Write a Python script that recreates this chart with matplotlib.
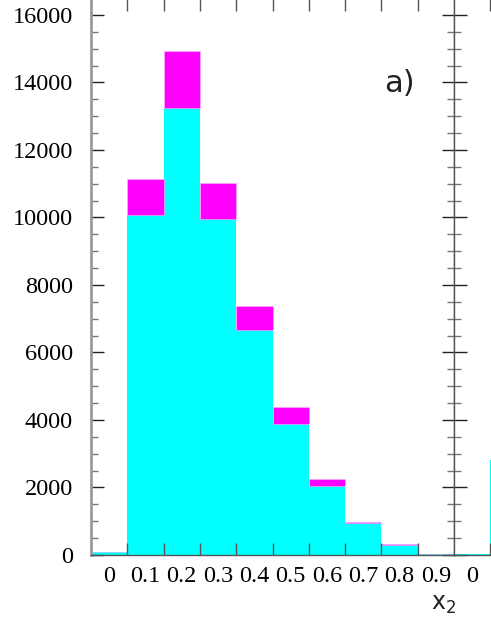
import matplotlib

matplotlib.use("Agg")
import matplotlib.pyplot as plt  # noqa: E402
import numpy as np  # noqa: E402

# x_2 histogram, 10 bins centred on 0.0 ... 0.9
BIN_CENTERS = [0.0, 0.1, 0.2, 0.3, 0.4, 0.5, 0.6, 0.7, 0.8, 0.9]
BIN_LABELS = ["0", "0.1", "0.2", "0.3", "0.4", "0.5", "0.6", "0.7", "0.8", "0.9"]
CYAN_COUNTS = [90, 10060, 13250, 9950, 6660, 3870, 2040, 935, 290, 25]
TOTAL_COUNTS = [90, 11140, 14940, 11010, 7370, 4370, 2250, 985, 320, 25]
# neighbouring panel, only its first two bins show at the edge of the crop
NEXT_CENTERS = [0.0, 0.1]
NEXT_COUNTS = [40, 2800]
NEXT_LABEL_CENTERS = [0.0]
NEXT_LABELS = ["0"]
Y_TICKS = [0, 2000, 4000, 6000, 8000, 10000, 12000, 14000, 16000]

CYAN, MAGENTA = "#00ffff", "#ff00ff"
SERIF = "Liberation Serif"
W = 0.1

plt.rcParams.update({"mathtext.fontset": "dejavusans"})

fig = plt.figure(figsize=(4.91, 6.35), dpi=100)
px = lambda v: v / 491  # noqa: E731
py = lambda v: 1 - v / 635  # noqa: E731

# left panel: x from 91 to 454 px, bottom at 555 px, top just above crop
ax = fig.add_axes([px(91), py(555), px(454) - px(91), py(-2) - py(555)])
ax2 = fig.add_axes([px(454), py(555), px(454) - px(91), py(-2) - py(555)])

cyan = np.array(CYAN_COUNTS)
total = np.array(TOTAL_COUNTS)
ax.bar(BIN_CENTERS, cyan, width=W, color=CYAN, linewidth=0, zorder=1)
ax.bar(BIN_CENTERS, total - cyan, bottom=cyan, width=W, color=MAGENTA,
       edgecolor="#ffb0ff", linewidth=0.4, zorder=1)
ax2.bar(NEXT_CENTERS, NEXT_COUNTS, width=W, color=CYAN, linewidth=0, zorder=1)

edges = np.arange(0.05, 0.95, 0.1)
for a, labels, centers in ((ax, BIN_LABELS, BIN_CENTERS),
                           (ax2, NEXT_LABELS, NEXT_LABEL_CENTERS)):
    a.set_xlim(-0.05, 0.95)
    a.set_ylim(0, 16500)
    a.set_xticks(centers)
    a.set_xticklabels(labels, fontfamily=SERIF, fontsize=17.5)
    a.tick_params(axis="x", which="major", length=0, pad=8)
    a.set_xticks(edges, minor=True)
    a.tick_params(axis="x", which="minor", direction="in", length=9, width=1,
                  color="#555555", top=True, bottom=True)
    a.set_yticks(Y_TICKS)
    a.set_yticks(np.arange(0, 16501, 500), minor=True)
    for s in ("top", "bottom", "right", "left"):
        a.spines[s].set_color("#555555")
        a.spines[s].set_linewidth(1)

ax.set_yticklabels([str(v) for v in Y_TICKS], fontfamily=SERIF, fontsize=17.5)
ax.tick_params(axis="y", which="major", direction="in", length=9, width=1,
               color="#222222", pad=13, left=True, right=True)
ax.tick_params(axis="y", which="minor", direction="in", length=5, width=1,
               color="#777777", left=True, right=True)
ax.spines["left"].set_color("#9a9a9a")
ax.spines["left"].set_linewidth(2)

ax2.set_yticklabels([])
ax2.tick_params(axis="y", which="major", direction="in", length=9, width=1,
                color="#222222", left=True, right=False)
ax2.tick_params(axis="y", which="minor", direction="in", length=5, width=1,
                color="#777777", left=True, right=False)

ax.text(0.851, 0.847, "a)", transform=ax.transAxes, fontsize=22,
        fontfamily="DejaVu Sans", color="#222222", ha="center", va="center")
fig.text(px(444), py(604), r"$\mathrm{x}_2$", fontsize=17, color="#222222",
         ha="center", va="center")

fig.savefig("out.png", dpi=100)
